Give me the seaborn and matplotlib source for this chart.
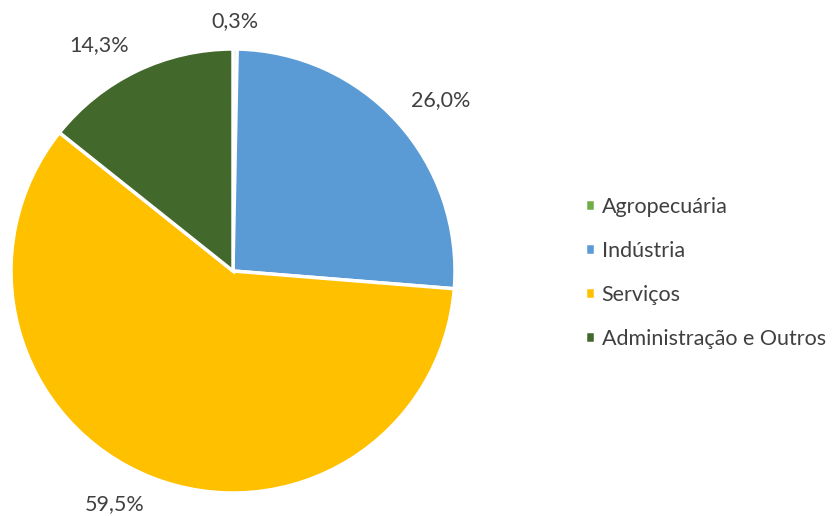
import matplotlib
matplotlib.use("Agg")
import matplotlib.pyplot as plt
import seaborn as sns

# dados do gráfico
setores = ["Agropecuária", "Indústria", "Serviços", "Administração e Outros"]
valores = [0.3, 26.0, 59.5, 14.3]
cores = ["#70AD47", "#5B9BD5", "#FFC000", "#43682B"]

sns.set_style("white")
plt.rcParams["font.family"] = ["Lato", "DejaVu Sans"]

fig = plt.figure(figsize=(8.32, 5.16), dpi=100)
# eixo quadrado em pixels: centro (233, 271), raio 222
ax = fig.add_axes([11 / 832, 23 / 516, 444 / 832, 444 / 516])

rotulos = [f"{v:.1f}%".replace(".", ",") for v in valores]
fatias, textos = ax.pie(
    valores,
    labels=rotulos,
    colors=cores,
    startangle=90,
    counterclock=False,
    labeldistance=1.08,
    wedgeprops=dict(edgecolor="white", linewidth=2.5),
    textprops=dict(color="#404040", fontsize=15.5),
)
# alinhamento dos rótulos como no Excel (fora da fatia)
for t in textos:
    x, y = t.get_position()
    if abs(x) < 0.1:
        t.set_horizontalalignment("center")
    t.set_verticalalignment("bottom" if y > 0 else "top")
ax.set_xlim(-1, 1)
ax.set_ylim(-1, 1)
ax.set_aspect("equal")
ax.set_axis_off()

fig.legend(
    fatias, setores,
    loc="center left", bbox_to_anchor=(0.703, 0.471),
    frameon=False, fontsize=15.5, labelcolor="#404040",
    handlelength=0.48, handleheight=0.48, handletextpad=0.3,
    labelspacing=1.12, borderpad=0, borderaxespad=0,
)

fig.savefig("out.png", dpi=100)
